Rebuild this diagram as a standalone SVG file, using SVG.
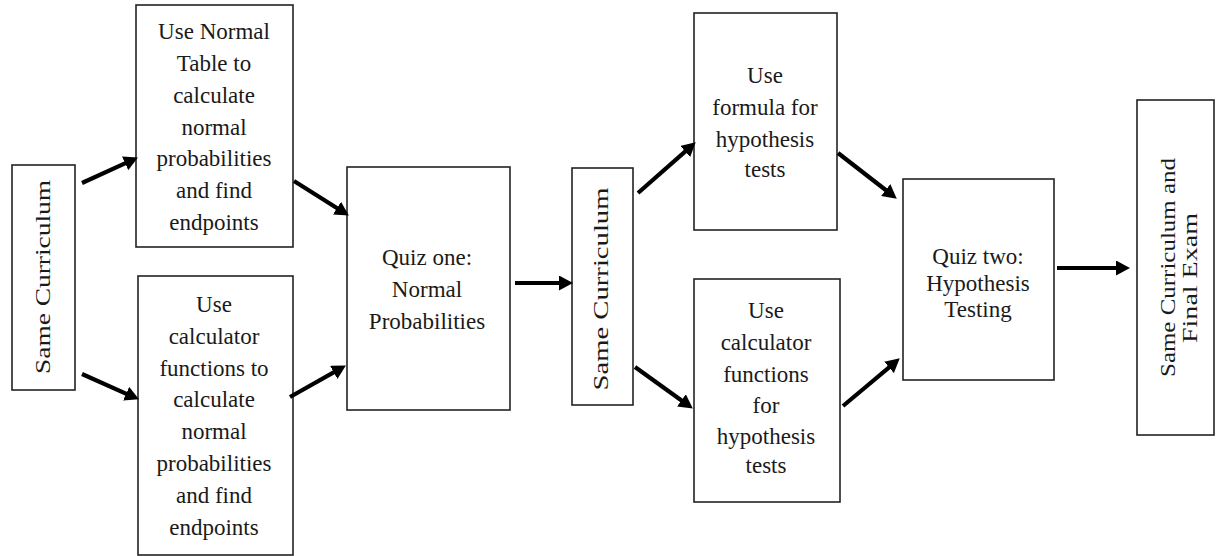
<svg xmlns="http://www.w3.org/2000/svg" width="1216" height="556" viewBox="0 0 1216 556">
<style>
  .box { fill: #ffffff; stroke: #222222; stroke-width: 1.6; }
  .t { font-family: "Liberation Serif", "Times New Roman", serif; font-size: 23px; fill: #1a1a1a; text-anchor: middle; }
  .v { font-family: "Liberation Serif", "Times New Roman", serif; font-size: 22px; fill: #1a1a1a; text-anchor: middle; }
  .arrow { stroke: #000000; stroke-width: 4.2; fill: none; marker-end: url(#head); }
</style>
<defs>
  <marker id="head" markerUnits="userSpaceOnUse" markerWidth="14" markerHeight="15" refX="4" refY="7.5" orient="auto">
    <path d="M0,0 L14,7.5 L0,15 z" fill="#000000"/>
  </marker>
</defs>
<rect width="1216" height="556" fill="#ffffff"/>

<g id="node-same-curriculum-1">
  <rect class="box" x="12" y="165" width="63" height="225"/>
  <text class="v" transform="translate(50,277) rotate(-90)" textLength="194" lengthAdjust="spacingAndGlyphs">Same Curriculum</text>
</g>

<g id="node-normal-table">
  <rect class="box" x="136" y="5" width="157" height="242"/>
  <text class="t" x="214" y="39">Use Normal</text>
  <text class="t" x="214" y="71">Table to</text>
  <text class="t" x="214" y="103">calculate</text>
  <text class="t" x="214" y="135">normal</text>
  <text class="t" x="214" y="166">probabilities</text>
  <text class="t" x="214" y="198">and find</text>
  <text class="t" x="214" y="230">endpoints</text>
</g>

<g id="node-calculator-normal">
  <rect class="box" x="138" y="276" width="155" height="279"/>
  <text class="t" x="214" y="312">Use</text>
  <text class="t" x="214" y="344">calculator</text>
  <text class="t" x="214" y="376">functions to</text>
  <text class="t" x="214" y="407">calculate</text>
  <text class="t" x="214" y="439">normal</text>
  <text class="t" x="214" y="471">probabilities</text>
  <text class="t" x="214" y="503">and find</text>
  <text class="t" x="214" y="535">endpoints</text>
</g>

<g id="node-quiz-one">
  <rect class="box" x="347" y="167" width="163" height="243"/>
  <text class="t" x="427" y="265">Quiz one:</text>
  <text class="t" x="427" y="297">Normal</text>
  <text class="t" x="427" y="329">Probabilities</text>
</g>

<g id="node-same-curriculum-2">
  <rect class="box" x="572" y="168" width="61" height="237"/>
  <text class="v" transform="translate(608,289) rotate(-90)" textLength="203" lengthAdjust="spacingAndGlyphs">Same Curriculum</text>
</g>

<g id="node-formula">
  <rect class="box" x="694" y="13" width="143" height="217"/>
  <text class="t" x="765" y="83">Use</text>
  <text class="t" x="765" y="115">formula for</text>
  <text class="t" x="765" y="147">hypothesis</text>
  <text class="t" x="765" y="177">tests</text>
</g>

<g id="node-calculator-hypothesis">
  <rect class="box" x="694" y="279" width="146" height="223"/>
  <text class="t" x="766" y="318">Use</text>
  <text class="t" x="766" y="350">calculator</text>
  <text class="t" x="766" y="382">functions</text>
  <text class="t" x="766" y="413">for</text>
  <text class="t" x="766" y="444">hypothesis</text>
  <text class="t" x="766" y="473">tests</text>
</g>

<g id="node-quiz-two">
  <rect class="box" x="903" y="179" width="151" height="201"/>
  <text class="t" x="978" y="264">Quiz two:</text>
  <text class="t" x="978" y="291">Hypothesis</text>
  <text class="t" x="978" y="317">Testing</text>
</g>

<g id="node-final">
  <rect class="box" x="1137" y="100" width="77" height="335"/>
  <text class="v" transform="translate(1175,267.5) rotate(-90)" textLength="219" lengthAdjust="spacingAndGlyphs">Same Curriculum and</text>
  <text class="v" transform="translate(1197,278) rotate(-90)" textLength="130" lengthAdjust="spacingAndGlyphs">Final Exam</text>
</g>

<g id="connectors">
  <line class="arrow" x1="82" y1="183" x2="128.8" y2="161.7"/>
  <line class="arrow" x1="294" y1="181" x2="340.4" y2="210.2"/>
  <line class="arrow" x1="82" y1="374" x2="129.8" y2="395.3"/>
  <line class="arrow" x1="290" y1="397" x2="337.2" y2="370.4"/>
  <line class="arrow" x1="515" y1="283" x2="563" y2="283"/>
  <line class="arrow" x1="638" y1="193" x2="688.2" y2="148.9"/>
  <line class="arrow" x1="635" y1="367" x2="684.7" y2="402.7"/>
  <line class="arrow" x1="838" y1="153" x2="888.9" y2="192.5"/>
  <line class="arrow" x1="843" y1="406" x2="892.1" y2="364.8"/>
  <line class="arrow" x1="1057" y1="268" x2="1120" y2="268"/>
</g>
</svg>
